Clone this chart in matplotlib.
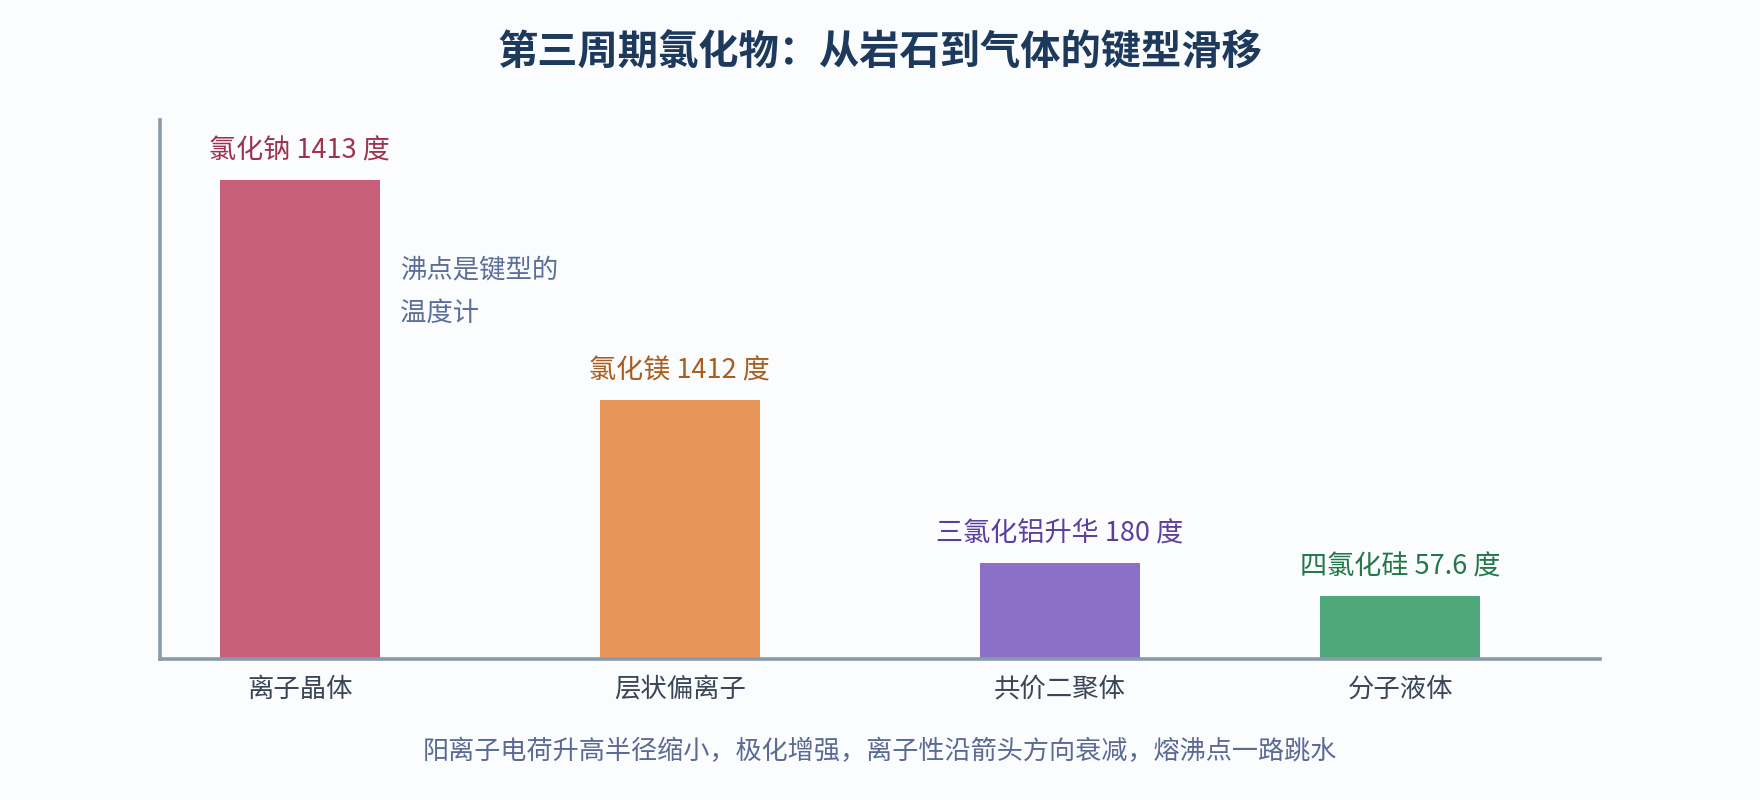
import matplotlib
matplotlib.use("Agg")
import matplotlib.pyplot as plt

plt.rcParams['font.family'] = ['Noto Sans CJK SC', 'DejaVu Sans']

# ---- data ----
categories = ["离子晶体", "层状偏离子", "共价二聚体", "分子液体"]
bar_values = [100, 54, 20, 13.2]          # relative bar heights
value_labels = ["氯化钠 1413 度", "氯化镁 1412 度", "三氯化铝升华 180 度", "四氯化硅 57.6 度"]
x_positions = [0, 1, 2, 2.895]
bar_colors = ["#c75f78", "#e8955a", "#8a70c7", "#50a87a"]
label_colors = ["#9c3450", "#a85e1f", "#5b3f9c", "#22784a"]
title = "第三周期氯化物：从岩石到气体的键型滑移"
note = "沸点是键型的\n温度计"
footnote = "阳离子电荷升高半径缩小，极化增强，离子性沿箭头方向衰减，熔沸点一路跳水"

bg = "#fbfcfe"
fig = plt.figure(figsize=(17.6, 8), dpi=100, facecolor=bg)
ax = fig.add_axes([160/1760, 1-659/800, 1440/1760, 539/800], facecolor=bg)

ax.bar(x_positions, bar_values, width=0.421, color=bar_colors, zorder=2)
ax.set_xlim(-0.368, 3.421)
ax.set_ylim(0, 112.5)

for x, v, lab, c in zip(x_positions, bar_values, value_labels, label_colors):
    ax.annotate(lab, (x, v), xytext=(0, 21), textcoords="offset points",
                ha="center", va="center", fontsize=19.5, color=c)

ax.set_xticks(x_positions)
ax.set_xticklabels(categories, fontsize=19, color="#3a4556")
ax.tick_params(axis="x", length=0, pad=12)
ax.set_yticks([])

for s in ["top", "right"]:
    ax.spines[s].set_visible(False)
for s in ["left", "bottom"]:
    ax.spines[s].set_color("#8a9aaa")
    ax.spines[s].set_linewidth(2.6)

ax.text(0.263, 76.7, note, ha="left", va="center", fontsize=19,
        color="#5b6f99", linespacing=1.75)

fig.text(0.5, 1-53/800, title, ha="center", va="center", fontsize=29,
         fontweight="bold", color="#1d3a5c")
fig.text(0.5, 1-752/800, footnote, ha="center", va="center", fontsize=18.8,
         color="#5b6a94")

fig.savefig("out.png", dpi=100, facecolor=bg)
